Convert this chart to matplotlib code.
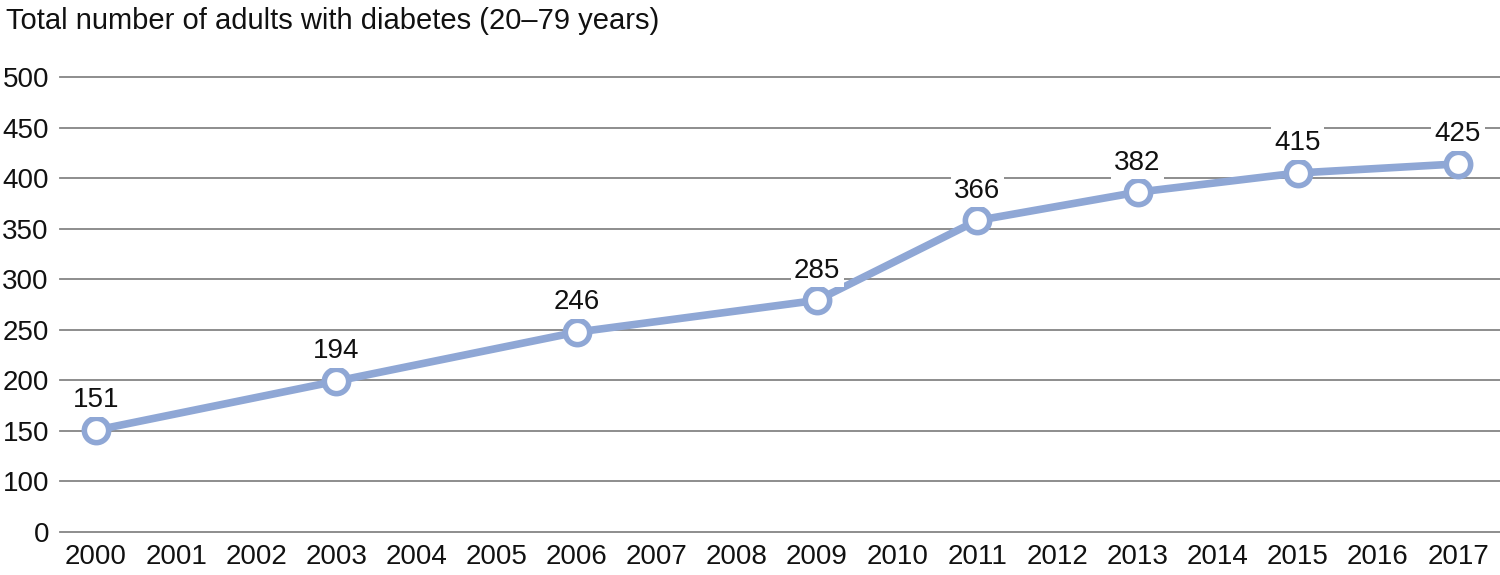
import matplotlib.pyplot as plt

years = list(range(2000, 2018))
point_years = [2000, 2003, 2006, 2009, 2011, 2013, 2015, 2017]
plotted = [150.5, 199, 247.5, 279, 358, 386, 405, 414]
value_labels = ['151', '194', '246', '285', '366', '382', '415', '425']
y_ticks = [50, 100, 150, 200, 250, 300, 350, 400, 450, 500]
y_tick_labels = ['0', '100', '150', '200', '250', '300', '350', '400', '450', '500']

plt.rcParams['font.family'] = ['Liberation Sans', 'DejaVu Sans']

fig = plt.figure(figsize=(15, 5.75), dpi=100)
ax = fig.add_axes([60 / 1500, 1 - 531.7 / 575, 1440 / 1500, (531.7 - 77) / 575])

line_color = '#8fa7d5'
xs = [years.index(y) for y in point_years]
ax.plot(xs, plotted, color=line_color, lw=5.5, marker='o', markersize=17.5,
        markerfacecolor='white', markeredgecolor=line_color, markeredgewidth=4,
        zorder=3, clip_on=False)

for x, v, lab in zip(xs, plotted, value_labels):
    ax.annotate(lab, (x, v), xytext=(0, 12), textcoords='offset points',
                ha='center', va='bottom', fontsize=20, color='#111111',
                bbox=dict(boxstyle='square,pad=0.12', fc='white', ec='none'),
                zorder=4)

# 2000 sits at x=96 px, 2017 at x=1458 px
step = (1458 - 96) / 17
ax.set_xlim((60 - 96) / step, (1500 - 96) / step)
ax.set_ylim(50, 500)
ax.set_xticks(range(len(years)))
ax.set_xticklabels([str(y) for y in years])
ax.set_yticks(y_ticks)
ax.set_yticklabels(y_tick_labels)
ax.tick_params(axis='both', length=0, labelsize=20, colors='#111111')
ax.tick_params(axis='y', pad=8)
ax.tick_params(axis='x', pad=9)

ax.grid(axis='y', color='#858585', lw=1.3, zorder=0)
ax.set_axisbelow(True)
for s in ax.spines.values():
    s.set_visible(False)
for gl in ax.get_ygridlines():
    gl.set_clip_on(False)

fig.text(6 / 1500, 1 - 21 / 575, 'Total number of adults with diabetes (20\u201379 years)',
         fontsize=21, ha='left', va='center', color='#111111')

fig.savefig('out.png', dpi=100)
